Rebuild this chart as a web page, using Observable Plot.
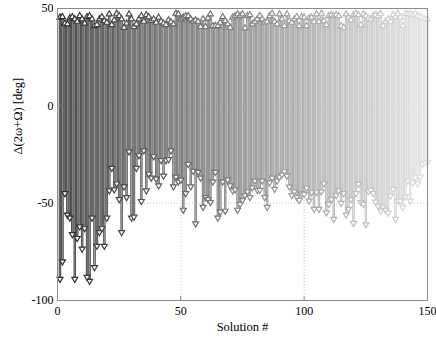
<!DOCTYPE html>
<html><head><meta charset="utf-8">
<script src="https://cdn.jsdelivr.net/npm/d3@7"></script>
<script src="https://cdn.jsdelivr.net/npm/@observablehq/plot@0.6"></script>
<style>body{margin:0;background:#fff}#chart svg{display:block}</style>
</head><body><div id="chart"></div>
<script>
const solutions = d3.range(1, 151);
const topValues = [
45.4,45.7,42.3,42,45,45.7,44.5,43.3,46.2,44.5,42.3,45.7,46.2,44.5,41.1,41.6,44.5,45.7,43.7,42.8,
47.1,41.6,44,47.4,46.2,44.5,40.2,42.3,47.1,44.5,40.6,42,44.5,46.2,43.3,46.7,45.7,43.7,44.5,42.8,
45.4,43.3,42.3,41.6,44,43,42,47.4,47.1,44.5,45.4,46.2,46.2,44.5,43.3,44,43.3,40.6,44.5,40.6,
45,47.1,41.1,41.1,41.1,42.8,45.7,43.7,42,40.2,45.4,46.2,47.1,46.2,47.1,39.9,46.2,46.7,42,43.3,
44.5,46.2,44.5,42.8,43.3,46.2,47.4,43.3,42,47.1,44.5,41.1,47.1,43.7,42.8,44.5,45.7,41.1,45.7,45.4,
41.1,45,45.4,43.3,47.1,43.3,47.4,43.7,41.6,46.2,46.7,46.2,46.7,46.2,41.1,40.2,47.1,45.4,44,46.7,
47.4,46.7,41.6,47.1,46.2,45,44.5,46.2,46.7,46.2,47.4,41.1,43.3,44.5,43.3,46.7,45.7,47.4,45.4,41.1,
47.4,47.1,47.4,46.7,47.4,46.2,45.7,45,44.5,44.5
];
const bottomValues = [
-89,-80,-45,-56,-57.5,-66,-89,-68,-62,-73.5,-63,-88,-90,-57.5,-83,-72,-65,-63,-72,-57.5,
-43.5,-32,-43,-40,-48,-65,-41.5,-47,-23.5,-57.5,-57,-32,-25.5,-49,-23,-43.5,-35,-37,-26,-37.5,
-41,-28,-36,-28,-27.5,-23,-41.5,-36.5,-39,-38,-53.5,-45,-30,-41.5,-33.5,-60.5,-34,-37,-52,-47,
-48,-49.5,-39,-34,-57.5,-54.5,-39,-54,-38,-41,-43.5,-43,-53.5,-50.5,-48.5,-46,-44,-47,-42,-38.5,
-43.3,-43.3,-38.5,-47,-52,-39.4,-37,-42.8,-38.5,-36.5,-35.4,-33.7,-36,-41.6,-46,-44,-47,-48.4,-45,-45.4,
-42.2,-48.8,-44.5,-53,-44.5,-53,-44,-40,-54.8,-50.5,-48,-58.2,-46,-43.5,-50,-45,-56,-53,-48,-60.3,
-45,-40.2,-49.6,-50.5,-61,-44,-43.3,-45,-49.3,-51.4,-53.9,-52.2,-53.6,-55,-46.2,-42.8,-58.2,-48.8,-48.8,-52.2,
-46.7,-38.5,-48.8,-39.4,-36.8,-40,-36.5,-30,-29.1,-29
];
const xTicks = [0, 50, 100, 150];
const yTicks = [-100, -50, 0, 50];
const xLabel = "Solution #";
const yLabel = "Δ(2ω+Ω) [deg]";

const data = solutions.map((s, k) => ({s, top: topValues[k], bottom: bottomValues[k]}));
const shade = d3.scaleLinear().domain([1, 150]).range([0, 1]);
const edgeColor = d => d3.interpolateRgb("#2a2a2a", "#e0e0e0")(shade(d.s));
const innerColor = d => d3.interpolateRgb("#9a9a9a", "#f6f6f6")(shade(d.s));

const font = "'Liberation Serif', 'Times New Roman', serif";
const chart = Plot.plot({
  width: 436, height: 345,
  marginLeft: 57, marginRight: 9, marginTop: 8, marginBottom: 45,
  style: {fontFamily: font, fontSize: "12px", background: "#fff", color: "#000"},
  x: {domain: [0, 150]},
  y: {domain: [-100, 50]},
  color: {type: "identity"},
  marks: [
    Plot.gridX(xTicks, {stroke: "#c8c8c8", strokeOpacity: 1, strokeDasharray: "1,2"}),
    Plot.gridY(yTicks, {stroke: "#c8c8c8", strokeOpacity: 1, strokeDasharray: "1,2"}),
    Plot.ruleX(data, {x: "s", y1: "bottom", y2: "top", stroke: edgeColor, strokeWidth: 2.4}),
    Plot.ruleX(data, {x: "s", y1: "bottom", y2: "top", stroke: innerColor, strokeWidth: 0.9}),
    Plot.dot(data, {x: "s", y: "top", symbol: "triangle", r: 2.2, stroke: edgeColor, fill: "white", strokeWidth: 1.2}),
    Plot.dot(data, {x: "s", y: "bottom", symbol: "triangle", rotate: 180, r: 2.2, stroke: edgeColor, fill: "white", strokeWidth: 1.2}),
    Plot.ruleX(xTicks.slice(1, -1), {x: d => d, y1: -100, y2: -98, stroke: "#888"}),
    Plot.ruleY(yTicks.slice(1, -1), {y: d => d, x1: 0, x2: 1.5, stroke: "#888"}),
    Plot.frame({stroke: "#8c8c8c"}),
    Plot.axisX(xTicks, {tickSize: 0, tickPadding: 6, tickFormat: d => String(d), label: null, fontSize: 12, fontFamily: font}),
    Plot.axisY(yTicks, {tickSize: 0, tickPadding: 4, tickFormat: d => String(d), label: null, fontSize: 12, fontFamily: font}),
    Plot.text([xLabel], {text: d => d, frameAnchor: "bottom", dy: 30, fontSize: 12.5, fontFamily: font}),
    Plot.text([yLabel], {text: d => d, frameAnchor: "left", rotate: -90, dx: -40, fontSize: 12.5, fontFamily: font})
  ]
});
document.getElementById("chart").appendChild(chart);
</script>
</body></html>
